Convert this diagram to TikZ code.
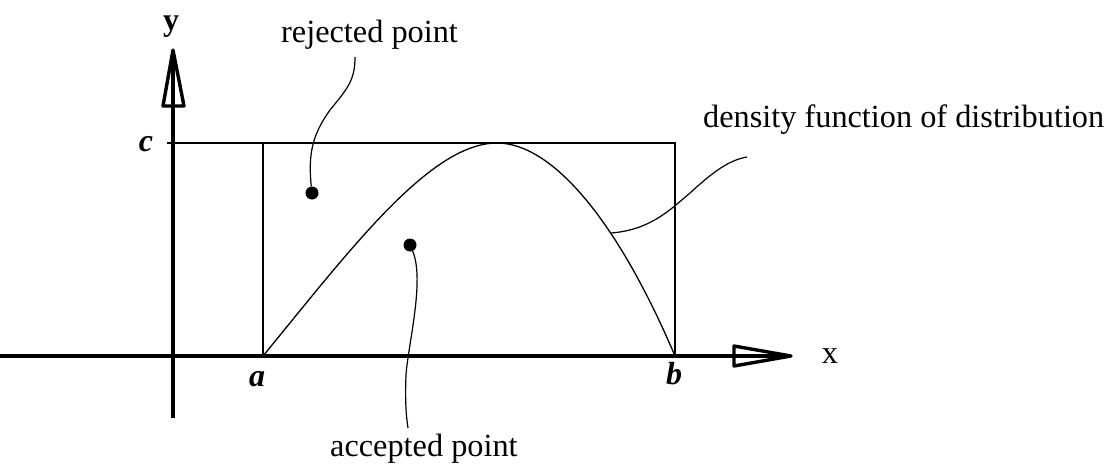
\documentclass[tikz,border=0pt]{standalone}
\usepackage{fontspec}
\setmainfont{Liberation Serif}
\begin{document}
\begin{tikzpicture}[x=1pt,y=-1pt,
  axis/.style={line width=4pt},
  thin line/.style={line width=1.3pt},
  leader/.style={line width=1.2pt},
  arrowhd/.style={line width=3.4pt,line join=round},
  dot/.style={circle,fill=black,inner sep=0pt,minimum size=13pt},
  lbl/.style={font=\fontsize{32.3}{38}\selectfont,inner sep=0pt,anchor=base west},
  axlbl/.style={font=\fontsize{32}{38}\selectfont\bfseries\itshape,inner sep=0pt,anchor=base},
]
\useasboundingbox (0,0) rectangle (1115,466);
% coordinates
\coordinate (xstart) at (0,356);
\coordinate (xtip) at (791,356);
\coordinate (ybot) at (173,418);
\coordinate (ytip) at (173,50);
\coordinate (A) at (263,356);
\coordinate (B) at (675,356);
\coordinate (Atop) at (263,143);
\coordinate (Btop) at (675,143);
\coordinate (ctick) at (167,143);
\coordinate (peak) at (497,143);
% axes
\draw[axis] (xstart) -- (xtip);
\draw[axis] (ybot) -- (ytip);
\draw[arrowhd] (163,106) -- (ytip) -- (184,106) -- cycle;
\draw[arrowhd] (734,346) -- (xtip) -- (734,366) -- cycle;
% rectangle
\draw[thin line] (ctick) -- (Atop) -- (A);
\draw[thin line] (Atop) -- (Btop) -- (B);
% density curve
\draw[thin line] (A) .. controls (350,250) and (430,143) .. (peak)
  .. controls (550,143) and (615,215) .. (B);
% labels
\node[axlbl,font=\fontsize{32}{38}\selectfont\bfseries] (ylab) at (171,30) {y};
\node[lbl,anchor=base] (xlab) at (830,363) {x};
\node[axlbl] (clab) at (146,151) {c};
\node[axlbl] (alab) at (257,386) {a};
\node[axlbl] (blab) at (674,384) {b};
% points
\node[dot] (rej) at (312,193) {};
\node[dot] (acc) at (410,245) {};
\node[lbl] (rejlab) at (281,42) {rejected point};
\node[lbl] (acclab) at (330,456) {accepted point};
\node[lbl] (denlab) at (703,127) {density function of distribution};
\coordinate (rejend) at (355,57);
\coordinate (accend) at (408,428);
\coordinate (denend) at (747,157);
\coordinate (oncurve) at (611,233);
% leaders
\draw[leader] (rej) .. controls (308,155) and (312,135) .. (330,110)
  .. controls (348,88) and (355,80) .. (rejend);
\draw[leader] (acc) .. controls (425,280) and (408,345) .. (406,375)
  .. controls (405,400) and (406,415) .. (accend);
\draw[leader] (oncurve) .. controls (650,230) and (670,210) .. (690,193)
  .. controls (715,170) and (730,160) .. (denend);
\end{tikzpicture}
\end{document}
